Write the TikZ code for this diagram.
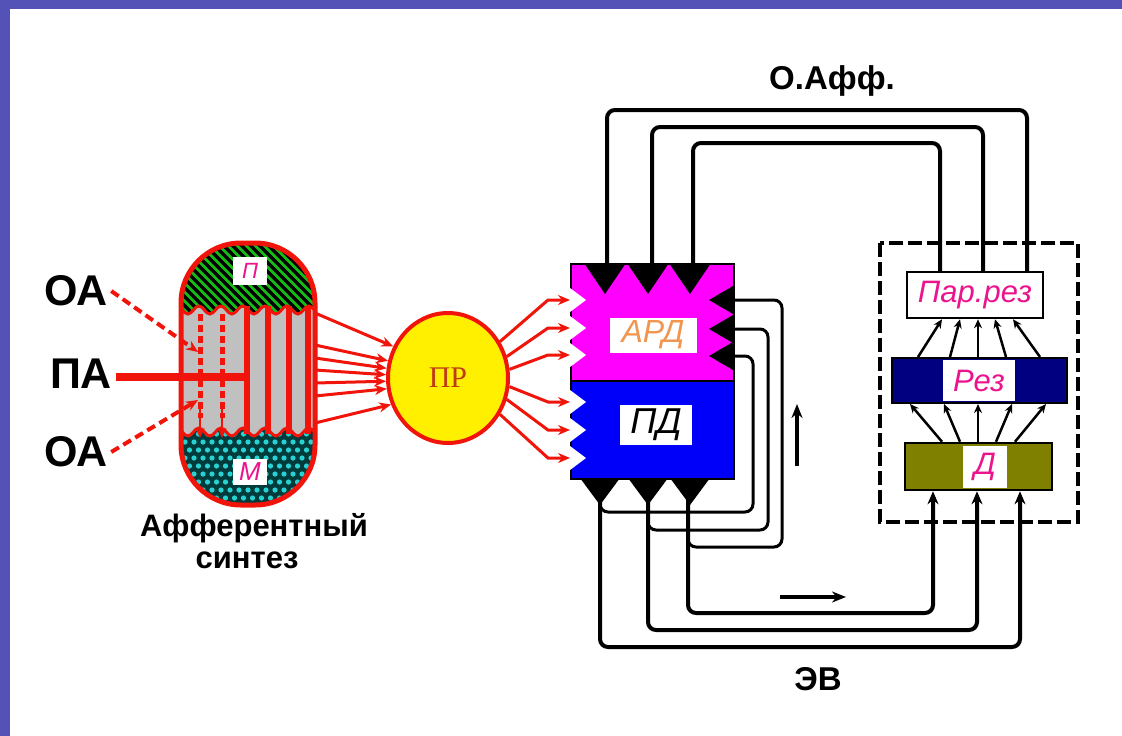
\documentclass[tikz,border=0pt]{standalone}
\usepackage{fontspec}
\setmainfont{Liberation Sans}
\newfontfamily\prfont{Liberation Serif}
\usetikzlibrary{shapes.geometric,decorations.pathmorphing,arrows.meta}
\definecolor{framebl}{RGB}{84,82,182}
\definecolor{hatchgr}{RGB}{20,190,20}
\definecolor{mgray}{RGB}{192,192,192}
\definecolor{mteal}{RGB}{0,60,60}
\definecolor{mcyan}{RGB}{40,210,210}
\definecolor{prred}{RGB}{240,20,10}
\definecolor{pryel}{RGB}{255,240,0}
\definecolor{prtext}{RGB}{190,60,20}
\definecolor{ardmag}{RGB}{255,0,255}
\definecolor{pdblue}{RGB}{0,0,250}
\definecolor{ardor}{RGB}{240,150,80}
\definecolor{labmag}{RGB}{235,20,140}
\definecolor{reznavy}{RGB}{0,0,128}
\definecolor{dolive}{RGB}{128,128,0}

\begin{document}
\begin{tikzpicture}[x=1pt, y=-1pt, >=stealth,
    bigtxt/.style={font=\fontsize{43}{43}\selectfont\bfseries},
    midtxt/.style={font=\fontsize{31}{31}\selectfont\bfseries, inner sep=0pt, anchor=base},
    boxlbl/.style={fill=white, inner sep=0pt, font=\fontsize{#1}{#1}\selectfont\itshape},
    redline/.style={prred, line width=3pt, -{Stealth[length=12pt,width=10pt]}},
    oaline/.style={prred, line width=4pt, dash pattern=on 9pt off 5pt, -{Stealth[length=12pt,width=10pt]}},
    loopline/.style={line width=4pt, rounded corners=8pt},
    fbline/.style={line width=3pt, rounded corners=8pt},
    fanline/.style={line width=2.5pt, -{Stealth[length=9pt,width=8pt]}},
    bigarrow/.style={line width=4pt, -{Stealth[length=14pt,width=11pt]}},
    wave/.style={decoration={snake, amplitude=4pt, segment length=22pt}}]
    \useasboundingbox (0,0) rectangle (1122,736);
    % Frame
    \fill[framebl] (0,0) rectangle (1122,9);
    \fill[framebl] (0,0) rectangle (10,736);

    % Afferent synthesis
    \begin{scope}
        \clip[rounded corners=60pt] (181,243) rectangle (315,505);
        \fill[mgray] (170,235) rectangle (330,515);
        \begin{scope}
            \clip (170,235) -- (170,310) decorate[wave] {-- (330,310)} -- (330,235) -- cycle;
            \fill[hatchgr] (170,235) rectangle (330,320);
            \foreach \i in {0,...,24}
                \draw[black, line width=3.5pt] ({100+9*\i},230) -- ++(90,90);
        \end{scope}
        \begin{scope}
            \clip (170,515) -- (170,432) decorate[wave] {-- (330,432)} -- (330,515) -- cycle;
            \fill[mteal] (170,420) rectangle (330,515);
            \foreach \i in {0,...,16}
                \foreach \j in {0,...,10}
                    \fill[mcyan] ({176+9*\i+4.5*mod(\j,2)},{426+8*\j}) circle (2.6pt);
        \end{scope}
        \draw[prred, line width=3pt] (170,310) decorate[wave] {-- (330,310)};
        \draw[prred, line width=3pt] (170,432) decorate[wave] {-- (330,432)};
        \foreach \x in {247,268,289,308}
            \draw[prred, line width=6pt] (\x,306) -- (\x,434);
        \foreach \x in {200,222} {
                \draw[prred, line width=5pt, dash pattern=on 7pt off 4pt] (\x,314) -- (\x,418);
                \draw[prred, line width=2pt, -{Stealth[length=10pt,width=9pt]}] (\x,408) -- (\x,438);
            }
    \end{scope}
    \draw[prred, line width=5pt, rounded corners=60pt] (181,243) rectangle (315,505);
    \node[boxlbl=22, text=labmag, minimum width=34pt, minimum height=28pt] (plab) at (250,271) {П};
    \node[boxlbl=26, text=labmag, minimum width=34pt, minimum height=26pt] (mlab) at (250,472) {М};

    % Inputs
    \node[bigtxt] (oa1) at (76,291) {ОА};
    \node[bigtxt] (pa) at (81,374) {ПА};
    \node[bigtxt] (oa2) at (76,452) {ОА};
    \draw[prred, line width=8pt] (pa.east |- 0,377) -- (247,377);
    \draw[oaline] (oa1.east) -- (198,352);
    \draw[oaline] (oa2.east) -- (198,400);
    \node[midtxt] (syn1) at (254,536) {Афферентный};
    \node[midtxt] (syn2) at (247,568) {синтез};

    % Decision
    \node[ellipse, draw=prred, line width=4pt, fill=pryel, minimum width=120pt, minimum height=130pt,
        font=\prfont\fontsize{30}{30}\selectfont, text=prtext] (pr) at (448,378) {ПР};
    \foreach \sy/\a in {313/150, 345/164, 358/171, 370/177, 383/183, 396/190, 423/205}
        \draw[redline] (315,\sy) -- (pr.\a);

    % Action acceptor and program
    \node[draw, line width=2pt, fill=ardmag, minimum width=163pt, minimum height=117pt, anchor=north west] (ard) at (570,263) {};
    \node[draw, line width=2pt, fill=pdblue, minimum width=163pt, minimum height=98pt, anchor=north west] (pd) at (570,380) {};
    \foreach \ty in {300,328,355,402,430,458}
        \fill[white] (570,{\ty-12}) -- (586,\ty) -- (570,{\ty+12}) -- cycle;
    \foreach \a/\ty in {35/300, 20/328, 8/355, -8/402, -20/430, -35/458}
        \draw[redline] (pr.\a) -- (548,\ty) -- (ard.west |- 0,\ty);
    \foreach \x in {605,648,690}
        \fill ({\x-21},263) -- ({\x+21},263) -- (\x,294) -- cycle;
    \foreach \y in {300,329,356}
        \fill (733,{\y-14}) -- (709,\y) -- (733,{\y+14}) -- cycle;
    \foreach \x in {600,648,690}
        \fill ({\x-20},478) -- ({\x+20},478) -- (\x,505) -- cycle;
    \node[boxlbl=32, text=ardor, minimum width=87pt, minimum height=35pt] (ardlab) at (653,335) {АРД};
    \node[boxlbl=36, minimum width=72pt, minimum height=40pt] (pdlab) at (656,425) {ПД};

    % Result
    \draw[line width=4pt, dash pattern=on 14pt off 5pt] (880,243) rectangle (1078,522);
    \node[draw, line width=2.5pt, boxlbl=31, text=labmag, minimum width=136pt, minimum height=46pt] (parrez) at (975,295) {Пар.рез};
    \node[draw, line width=2pt, fill=reznavy, minimum width=175pt, minimum height=45pt] (rez) at (979.5,380.5) {};
    \node[boxlbl=31, text=labmag, minimum width=72pt, minimum height=41pt] (rezlab) at (979,380.5) {Рез};
    \node[draw, line width=2.5pt, fill=dolive, minimum width=147pt, minimum height=47pt] (dbar) at (978.5,466.5) {};
    \node[boxlbl=31, text=labmag, minimum width=44pt, minimum height=42pt] (dlab) at (985,466.5) {Д};
    \foreach \s/\e in {918/942, 950/960, 978/978, 1006/995, 1040/1013}
        \draw[fanline] (\s,0 |- rez.north) -- (\e,0 |- parrez.south);
    \foreach \s/\e in {942/910, 960/944, 978/978, 996/1012, 1015/1046}
        \draw[fanline] (\s,0 |- dbar.north) -- (\e,0 |- rez.south);

    % Back afferentation
    \foreach \a/\b/\h in {607/1027/110, 652/983/127, 693/940/143}
        \draw[loopline] (\a,0 |- ard.north) |- (\b,\h) -- (\b,0 |- parrez.north);
    \node[font=\fontsize{33}{33}\selectfont\bfseries] (oaff) at (832,81) {О.Афф.};

    % Efferent excitation
    \foreach \a/\b/\h in {600/1020/647, 648/977/630, 688/933/613}
        \draw[loopline, -{Stealth[length=13pt,width=11pt]}] (\a,0 |- pd.south) |- (\b,\h) -- (\b,0 |- dbar.south);
    \foreach \y/\c/\b/\a in {300/782/547/688, 329/768/530/648, 356/753/512/600}
        \draw[fbline] (ard.east |- 0,\y) -- (\c,\y) -- (\c,\b) -- (\a,\b) -- (\a,{\b-22});
    \draw[bigarrow] (797,466) -- (797,404);
    \draw[bigarrow] (780,597) -- (846,597);
    \node[font=\fontsize{33}{33}\selectfont\bfseries] (ev) at (818,679) {ЭВ};
\end{tikzpicture}
\end{document}
